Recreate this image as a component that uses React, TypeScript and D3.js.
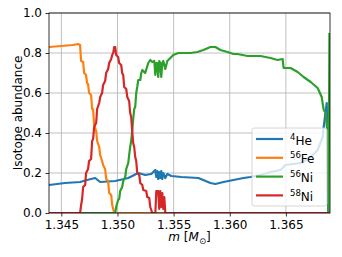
import React, { useEffect, useRef } from 'react';
import * as d3 from 'd3';

// mass coordinate [Msun] and abundance
const he4: [number, number][] = [
  [1.3439, 0.14], [1.34533, 0.15], [1.34667, 0.155], [1.34729, 0.165], [1.34801, 0.175],
  [1.34846, 0.155], [1.3498, 0.16], [1.35096, 0.175], [1.35185, 0.2], [1.35247, 0.19],
  [1.35301, 0.195], [1.35337, 0.215], [1.35346, 0.18], [1.35354, 0.21], [1.35363, 0.17],
  [1.35372, 0.205], [1.35381, 0.175], [1.3539, 0.21], [1.35399, 0.17], [1.35408, 0.2],
  [1.35426, 0.175], [1.35444, 0.195], [1.3548, 0.185], [1.35569, 0.18], [1.35721, 0.175],
  [1.35828, 0.15], [1.35872, 0.145], [1.35944, 0.155], [1.36033, 0.165], [1.36123, 0.175],
  [1.36185, 0.18], [1.36274, 0.19], [1.36363, 0.205], [1.36453, 0.215], [1.36497, 0.24],
  [1.36631, 0.25], [1.36721, 0.28], [1.36783, 0.315], [1.36828, 0.38], [1.36837, 0.43],
  [1.36864, 0.55], [1.36878, 0.0],
];

const fe56: [number, number][] = [
  [1.3439, 0.83], [1.345, 0.835], [1.346, 0.84], [1.34649, 0.845], [1.34667, 0.84],
  [1.34676, 0.76], [1.34694, 0.755], [1.34703, 0.7], [1.3472, 0.69], [1.34729, 0.65],
  [1.34738, 0.645], [1.34747, 0.6], [1.34765, 0.59], [1.34774, 0.52], [1.34783, 0.52],
  [1.34792, 0.44], [1.3481, 0.41], [1.34819, 0.36], [1.34837, 0.33], [1.34846, 0.29],
  [1.34863, 0.26], [1.34872, 0.24], [1.3489, 0.22], [1.34899, 0.17], [1.34917, 0.16],
  [1.34926, 0.1], [1.34944, 0.09], [1.34953, 0.04], [1.34971, 0], [1.36893, 0],
];

const ni56: [number, number][] = [
  [1.3439, 0], [1.3498, 0], [1.34988, 0.03], [1.35006, 0.065], [1.35015, 0.07],
  [1.35024, 0.11], [1.35042, 0.13], [1.35051, 0.16], [1.35069, 0.18], [1.35078, 0.22],
  [1.35096, 0.25], [1.35104, 0.29], [1.35113, 0.33], [1.35122, 0.36], [1.35131, 0.41],
  [1.3514, 0.47], [1.35149, 0.52], [1.35158, 0.53], [1.35167, 0.6], [1.35176, 0.63],
  [1.35185, 0.665], [1.35203, 0.665], [1.35212, 0.7], [1.35221, 0.715], [1.35247, 0.7],
  [1.35274, 0.75], [1.35292, 0.765], [1.3531, 0.755], [1.35328, 0.76], [1.35337, 0.69],
  [1.35346, 0.75], [1.35354, 0.75], [1.35363, 0.68], [1.35372, 0.76], [1.35381, 0.75],
  [1.3539, 0.68], [1.35399, 0.75], [1.35408, 0.76], [1.35426, 0.72], [1.35444, 0.76],
  [1.35471, 0.775], [1.35497, 0.79], [1.35542, 0.8], [1.35649, 0.8], [1.35712, 0.805],
  [1.35765, 0.815], [1.35828, 0.83], [1.35872, 0.83], [1.35917, 0.815], [1.3598, 0.805],
  [1.36033, 0.795], [1.36069, 0.795], [1.36114, 0.79], [1.36158, 0.785], [1.36274, 0.785],
  [1.36363, 0.775], [1.36426, 0.765], [1.36471, 0.77], [1.3648, 0.725], [1.36542, 0.725],
  [1.36605, 0.705], [1.36658, 0.68], [1.36721, 0.655], [1.36783, 0.625], [1.36819, 0.58],
  [1.36837, 0.515], [1.36855, 0.5], [1.36873, 0.38], [1.3688, 0.0], [1.36888, 0.9],
];

const ni58: [number, number][] = [
  [1.3439, 0], [1.34667, 0], [1.34676, 0.04], [1.34685, 0.07], [1.34694, 0.13],
  [1.34712, 0.14], [1.3472, 0.2], [1.34738, 0.22], [1.34747, 0.26], [1.34765, 0.27],
  [1.34774, 0.36], [1.34783, 0.37], [1.34792, 0.43], [1.3481, 0.45], [1.34819, 0.52],
  [1.34837, 0.55], [1.34846, 0.58], [1.34863, 0.6], [1.34872, 0.64], [1.3489, 0.66],
  [1.34899, 0.7], [1.34917, 0.72], [1.34926, 0.75], [1.34944, 0.77], [1.34953, 0.79],
  [1.34962, 0.8], [1.34971, 0.83], [1.3498, 0.83], [1.34988, 0.79], [1.35006, 0.78],
  [1.35015, 0.75], [1.35033, 0.74], [1.35042, 0.7], [1.35051, 0.69], [1.3506, 0.63],
  [1.35078, 0.62], [1.35087, 0.58], [1.35104, 0.56], [1.35113, 0.5], [1.35122, 0.48],
  [1.35131, 0.41], [1.3514, 0.35], [1.35149, 0.33], [1.35158, 0.28], [1.35167, 0.26],
  [1.35176, 0.2], [1.35194, 0.19], [1.35203, 0.15], [1.35221, 0.14], [1.3523, 0.115],
  [1.35256, 0.11], [1.35265, 0.08], [1.35283, 0.075], [1.35292, 0.03], [1.3531, 0],
  [1.35337, 0], [1.35346, 0.11], [1.35363, 0.11], [1.35372, 0.02], [1.35381, 0.11],
  [1.3539, 0.03], [1.35399, 0.1], [1.35408, 0.02], [1.35417, 0.08], [1.35426, 0],
  [1.36893, 0],
];

const seriesNames = ['He', 'Fe', 'Ni', 'Ni'];
const seriesMass = ['4', '56', '56', '58'];
const seriesColors = ['#1f77b4', '#ff7f0e', '#2ca02c', '#d62728'];
const xTicks = [1.345, 1.35, 1.355, 1.36, 1.365];
const yTicks = [0, 0.2, 0.4, 0.6, 0.8, 1.0];

function App() {
  const ref = useRef<SVGSVGElement | null>(null);

  useEffect(() => {
    const width = 342, height = 257;
    const margin = { top: 13, right: 12, bottom: 44, left: 49 };
    const innerW = width - margin.left - margin.right;
    const innerH = height - margin.top - margin.bottom;
    const font = 'DejaVu Sans';

    const svg = d3.select(ref.current);
    svg.selectAll('*').remove();

    const x = d3.scaleLinear().domain([1.3439, 1.36893]).range([0, innerW]);
    const y = d3.scaleLinear().domain([0, 1]).range([innerH, 0]);

    svg.append('defs').append('clipPath').attr('id', 'plot-clip')
      .append('rect').attr('width', innerW).attr('height', innerH);

    const g = svg.append('g').attr('transform', `translate(${margin.left},${margin.top})`);

    // grid
    g.append('g').selectAll('line.gx').data(xTicks).enter().append('line')
      .attr('x1', d => x(d)).attr('x2', d => x(d)).attr('y1', 0).attr('y2', innerH)
      .attr('stroke', '#b0b0b0').attr('stroke-width', 0.8);
    g.append('g').selectAll('line.gy').data(yTicks).enter().append('line')
      .attr('x1', 0).attr('x2', innerW).attr('y1', d => y(d)).attr('y2', d => y(d))
      .attr('stroke', '#b0b0b0').attr('stroke-width', 0.8);

    const line = d3.line<[number, number]>().x(d => x(d[0])).y(d => y(d[1]));
    const all = [he4, fe56, ni56, ni58];
    g.append('g').attr('clip-path', 'url(#plot-clip)')
      .selectAll('path').data(all).enter().append('path')
      .attr('d', d => line(d))
      .attr('fill', 'none')
      .attr('stroke', (_, i) => seriesColors[i])
      .attr('stroke-width', 2.2)
      .attr('stroke-linejoin', 'round');

    // axes
    const xAxis = g.append('g').attr('transform', `translate(0,${innerH})`)
      .call(d3.axisBottom(x).tickValues(xTicks).tickFormat(d3.format('.3f')).tickSizeOuter(0).tickSize(3.5).tickPadding(3.5));
    const yAxis = g.append('g')
      .call(d3.axisLeft(y).tickValues(yTicks).tickFormat(d3.format('.1f')).tickSizeOuter(0).tickSize(3.5).tickPadding(3.5));
    [xAxis, yAxis].forEach(a => {
      a.select('.domain').remove();
      a.selectAll('line').attr('stroke', '#000').attr('stroke-width', 0.8);
      a.selectAll('text').attr('fill', '#000').style('font-family', font).style('font-size', '12px');
    });

    // frame
    g.append('rect').attr('width', innerW).attr('height', innerH)
      .attr('fill', 'none').attr('stroke', '#000').attr('stroke-width', 0.8);

    // axis labels
    const xl = svg.append('text')
      .attr('x', margin.left + innerW / 2).attr('y', 241)
      .attr('text-anchor', 'middle')
      .style('font-family', font).style('font-size', '12px');
    xl.append('tspan').style('font-style', 'italic').text('m');
    xl.append('tspan').text(' [');
    xl.append('tspan').style('font-style', 'italic').text('M');
    xl.append('tspan').attr('dy', 2.5).style('font-size', '8.5px').text('\u2299');
    xl.append('tspan').attr('dy', -2.5).text(']');

    svg.append('text')
      .attr('transform', `translate(22,${margin.top + innerH / 2}) rotate(-90)`)
      .attr('text-anchor', 'middle')
      .style('font-family', font).style('font-size', '12px')
      .text('Isotope abundance');

    // legend
    const lg = svg.append('g').attr('transform', 'translate(252,128)');
    lg.append('rect').attr('width', 75).attr('height', 78).attr('rx', 2.5)
      .attr('fill', 'white').attr('fill-opacity', 0.8)
      .attr('stroke', '#cccccc').attr('stroke-width', 0.8);
    seriesNames.forEach((name, i) => {
      const yy = 11 + i * 18.8;
      lg.append('line').attr('x1', 4).attr('x2', 31).attr('y1', yy).attr('y2', yy)
        .attr('stroke', seriesColors[i]).attr('stroke-width', 2.2);
      const t = lg.append('text').attr('x', 38).attr('y', yy + 5.5)
        .style('font-family', font).style('font-size', '12px');
      t.append('tspan').attr('dy', -5).style('font-size', '8.5px').text(seriesMass[i]);
      t.append('tspan').attr('dy', 5).text(name);
    });
  }, []);

  return (
    <div style={{ position: 'absolute', left: 0, top: 0 }}>
      <svg ref={ref} width={342} height={257} style={{ display: 'block', background: 'white' }} />
    </div>
  );
}

export default App;
